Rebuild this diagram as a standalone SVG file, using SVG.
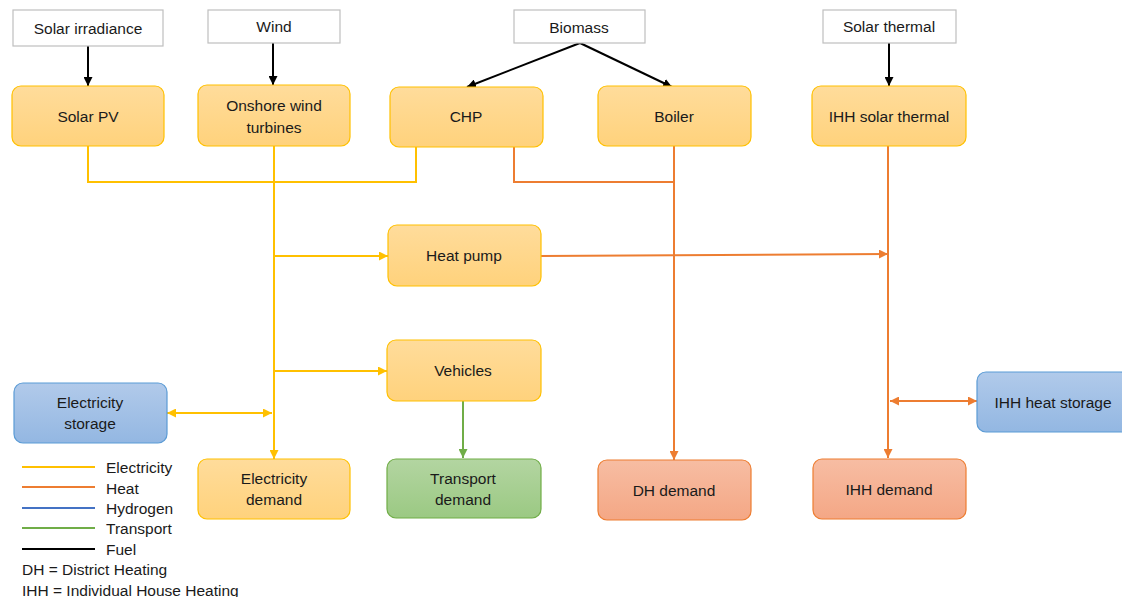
<svg xmlns="http://www.w3.org/2000/svg" width="1122" height="597" viewBox="0 0 1122 597">
<defs>
<linearGradient id="gOr" x1="0" y1="0" x2="0" y2="1"><stop offset="0" stop-color="#FFDC9B"/><stop offset="1" stop-color="#FFD27C"/></linearGradient>
<linearGradient id="gBl" x1="0" y1="0" x2="0" y2="1"><stop offset="0" stop-color="#B1CAEA"/><stop offset="1" stop-color="#93B7E2"/></linearGradient>
<linearGradient id="gGr" x1="0" y1="0" x2="0" y2="1"><stop offset="0" stop-color="#B3D5A1"/><stop offset="1" stop-color="#9BC983"/></linearGradient>
<linearGradient id="gSa" x1="0" y1="0" x2="0" y2="1"><stop offset="0" stop-color="#F7BDA3"/><stop offset="1" stop-color="#F4A785"/></linearGradient>
<marker id="aK" viewBox="0 0 10 10" refX="10" refY="5" markerWidth="9" markerHeight="9" markerUnits="userSpaceOnUse" orient="auto-start-reverse"><path d="M0,0 L10,5 L0,10 z" fill="#000"/></marker>
<marker id="aY" viewBox="0 0 10 10" refX="10" refY="5" markerWidth="9" markerHeight="9" markerUnits="userSpaceOnUse" orient="auto-start-reverse"><path d="M0,0 L10,5 L0,10 z" fill="#FFC000"/></marker>
<marker id="aO" viewBox="0 0 10 10" refX="10" refY="5" markerWidth="9" markerHeight="9" markerUnits="userSpaceOnUse" orient="auto-start-reverse"><path d="M0,0 L10,5 L0,10 z" fill="#ED7D31"/></marker>
<marker id="aG" viewBox="0 0 10 10" refX="10" refY="5" markerWidth="9" markerHeight="9" markerUnits="userSpaceOnUse" orient="auto-start-reverse"><path d="M0,0 L10,5 L0,10 z" fill="#70AD47"/></marker>
</defs>
<style>
text{font-family:"Liberation Sans",Arial,sans-serif;font-size:15.5px;fill:#1a1a1a;text-anchor:middle;dominant-baseline:central}
.src{fill:#fff;stroke:#BFBFBF;stroke-width:1.2}
.or{fill:url(#gOr);stroke:#FFC000;stroke-width:1.2}
.bl{fill:url(#gBl);stroke:#5B9BD5;stroke-width:1.2}
.gr{fill:url(#gGr);stroke:#70AD47;stroke-width:1.2}
.sa{fill:url(#gSa);stroke:#ED7D31;stroke-width:1.2}
.fuel{stroke:#000;stroke-width:2;fill:none}
.el{stroke:#FFC000;stroke-width:2;fill:none}
.ht{stroke:#ED7D31;stroke-width:2;fill:none}
.tr{stroke:#70AD47;stroke-width:2;fill:none}
.hy{stroke:#4472C4;stroke-width:2;fill:none}
.lg{text-anchor:start}
</style>

<g id="connectors">
<path class="fuel" d="M88,46 V86" marker-end="url(#aK)"/>
<path class="fuel" d="M273,43 V85" marker-end="url(#aK)"/>
<path class="fuel" d="M580,43 L467,87" marker-end="url(#aK)"/>
<path class="fuel" d="M580,43 L672,87" marker-end="url(#aK)"/>
<path class="fuel" d="M889,43 V86" marker-end="url(#aK)"/>
<path class="el" d="M88,146 V182 H416 V147"/>
<path class="el" d="M274,146 V459" marker-end="url(#aY)"/>
<path class="el" d="M274,256 H388" marker-end="url(#aY)"/>
<path class="el" d="M274,371 H387" marker-end="url(#aY)"/>
<path class="el" d="M167,413 H272" marker-start="url(#aY)" marker-end="url(#aY)"/>
<path class="ht" d="M514,147 V182 H674"/>
<path class="ht" d="M674,146 V460" marker-end="url(#aO)"/>
<path class="ht" d="M541,256 L888,254" marker-end="url(#aO)"/>
<path class="ht" d="M888,146 V458" marker-end="url(#aO)"/>
<path class="ht" d="M890,401 H977" marker-start="url(#aO)" marker-end="url(#aO)"/>
<path class="tr" d="M463,401 V458" marker-end="url(#aG)"/>
</g>

<g id="solar-irradiance"><rect class="src" x="13" y="10" width="150" height="36"/><text x="88" y="28">Solar irradiance</text></g>
<g id="wind"><rect class="src" x="208" y="10" width="132" height="33"/><text x="274" y="26">Wind</text></g>
<g id="biomass"><rect class="src" x="514" y="10" width="131" height="33"/><text x="579" y="27">Biomass</text></g>
<g id="solar-thermal"><rect class="src" x="823" y="10" width="133" height="33"/><text x="889" y="26">Solar thermal</text></g>

<g id="solar-pv"><rect class="or" x="12" y="86" width="152" height="60" rx="9"/><text x="88" y="116">Solar PV</text></g>
<g id="onshore-wind"><rect class="or" x="198" y="85" width="152" height="61" rx="9"/><text x="274" y="105">Onshore wind</text><text x="274" y="127">turbines</text></g>
<g id="chp"><rect class="or" x="390" y="87" width="153" height="60" rx="9"/><text x="466" y="116">CHP</text></g>
<g id="boiler"><rect class="or" x="598" y="86" width="153" height="60" rx="9"/><text x="674" y="116">Boiler</text></g>
<g id="ihh-solar-thermal"><rect class="or" x="812" y="86" width="154" height="60" rx="9"/><text x="889" y="116">IHH solar thermal</text></g>
<g id="heat-pump"><rect class="or" x="388" y="225" width="153" height="61" rx="9"/><text x="464" y="255">Heat pump</text></g>
<g id="vehicles"><rect class="or" x="387" y="340" width="154" height="61" rx="9"/><text x="463" y="370">Vehicles</text></g>
<g id="electricity-storage"><rect class="bl" x="14" y="383" width="153" height="60" rx="9"/><text x="90" y="402">Electricity</text><text x="90" y="423">storage</text></g>
<g id="ihh-heat-storage"><rect class="bl" x="977" y="372" width="152" height="60" rx="9"/><text x="1053" y="402">IHH heat storage</text></g>
<g id="electricity-demand"><rect class="or" x="198" y="459" width="152" height="60" rx="9"/><text x="274" y="478">Electricity</text><text x="274" y="499">demand</text></g>
<g id="transport-demand"><rect class="gr" x="387" y="459" width="154" height="59" rx="9"/><text x="463" y="478">Transport</text><text x="463" y="499">demand</text></g>
<g id="dh-demand"><rect class="sa" x="598" y="460" width="153" height="60" rx="9"/><text x="674" y="490">DH demand</text></g>
<g id="ihh-demand"><rect class="sa" x="813" y="459" width="153" height="60" rx="9"/><text x="889" y="489">IHH demand</text></g>

<g id="legend">
<line class="el" x1="22" y1="467" x2="95" y2="467"/><text class="lg" x="106" y="467">Electricity</text>
<line class="ht" x1="22" y1="487" x2="95" y2="487"/><text class="lg" x="106" y="488">Heat</text>
<line class="hy" x1="22" y1="508" x2="95" y2="508"/><text class="lg" x="106" y="508">Hydrogen</text>
<line class="tr" x1="22" y1="528" x2="95" y2="528"/><text class="lg" x="106" y="528">Transport</text>
<line class="fuel" x1="22" y1="549" x2="95" y2="549"/><text class="lg" x="106" y="549">Fuel</text>
<text class="lg" x="22" y="569">DH = District Heating</text>
<text class="lg" x="22" y="590">IHH = Individual House Heating</text>
</g>
</svg>
